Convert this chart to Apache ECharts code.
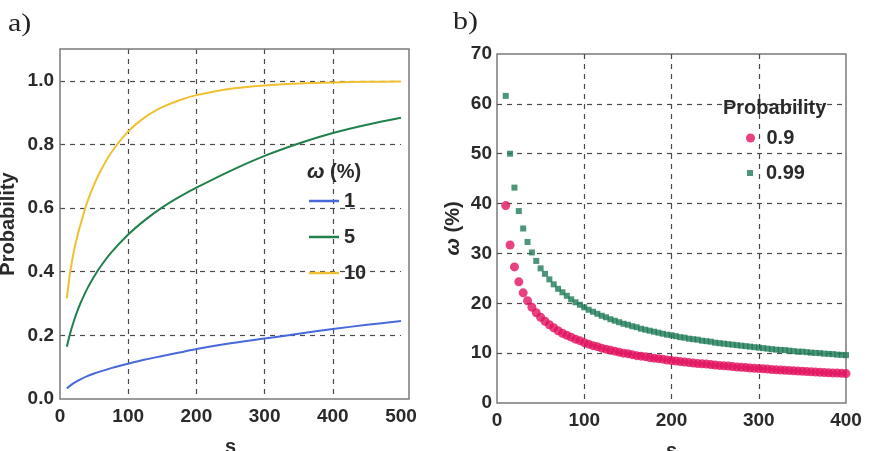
<!DOCTYPE html>
<html>
<head>
<meta charset="utf-8">
<script src="https://cdn.jsdelivr.net/npm/echarts@6/dist/echarts.min.js"></script>
<style>
  html, body { margin: 0; padding: 0; background: #fff; }
  #chart { width: 888px; height: 451px; }
</style>
</head>
<body>
<div id="chart"></div>
<script>
// panel a) probability vs s
var sA = [10, 15, 20, 25, 30, 40, 50, 60, 75, 100, 125, 150, 175, 200, 250, 300, 350, 400, 450, 500];
var w1 = [0.033, 0.042, 0.05, 0.056, 0.062, 0.072, 0.08, 0.087, 0.097, 0.111, 0.124, 0.135, 0.146, 0.157, 0.175, 0.19, 0.205, 0.22, 0.233, 0.245];
var w5 = [0.164, 0.207, 0.243, 0.274, 0.301, 0.347, 0.385, 0.418, 0.46, 0.517, 0.563, 0.602, 0.635, 0.664, 0.717, 0.764, 0.803, 0.836, 0.862, 0.884];
var w10 = [0.316, 0.4, 0.46, 0.508, 0.548, 0.619, 0.674, 0.719, 0.774, 0.841, 0.886, 0.917, 0.939, 0.955, 0.975, 0.9855, 0.9914, 0.9948, 0.9968, 0.998];

// panel b) omega vs s
var sB = [10, 15, 20, 25, 30, 35, 40, 45, 50, 55, 60, 65, 70, 75, 80, 85, 90, 95, 100,
  105, 110, 115, 120, 125, 130, 135, 140, 145, 150, 155, 160, 165, 170, 175, 180, 185, 190, 195, 200,
  205, 210, 215, 220, 225, 230, 235, 240, 245, 250, 255, 260, 265, 270, 275, 280, 285, 290, 295, 300,
  305, 310, 315, 320, 325, 330, 335, 340, 345, 350, 355, 360, 365, 370, 375, 380, 385, 390, 395, 400];
var p90 = [39.6, 31.7, 27.3, 24.3, 22.1, 20.5, 19.2, 18.1, 17.2, 16.4, 15.7, 15.1, 14.5, 14.0, 13.6, 13.2, 12.8, 12.5, 12.1,
  11.8, 11.5, 11.3, 11.0, 10.8, 10.6, 10.4, 10.2, 10.0, 9.9, 9.7, 9.5, 9.4, 9.3, 9.1, 9.0, 8.9, 8.8, 8.6, 8.5,
  8.4, 8.3, 8.2, 8.1, 8.0, 7.9, 7.85, 7.8, 7.7, 7.6, 7.5, 7.45, 7.4, 7.3, 7.2, 7.15, 7.1, 7.0, 6.95, 6.9,
  6.85, 6.8, 6.7, 6.65, 6.6, 6.55, 6.5, 6.45, 6.4, 6.35, 6.3, 6.25, 6.2, 6.15, 6.1, 6.05, 6.0, 6.0, 5.95, 5.9];
var p99 = [61.6, 50.0, 43.2, 38.5, 35.0, 32.3, 30.2, 28.5, 27.0, 25.9, 24.8, 23.8, 22.9, 22.2, 21.5, 20.8, 20.2, 19.7, 19.2,
  18.7, 18.3, 17.9, 17.5, 17.2, 16.8, 16.5, 16.2, 15.9, 15.7, 15.4, 15.2, 14.9, 14.7, 14.5, 14.3, 14.1, 13.9, 13.7, 13.6,
  13.4, 13.2, 13.1, 12.9, 12.8, 12.7, 12.5, 12.4, 12.3, 12.1, 12.0, 11.9, 11.8, 11.7, 11.6, 11.5, 11.4, 11.3, 11.2, 11.1,
  11.0, 10.9, 10.8, 10.7, 10.65, 10.6, 10.5, 10.4, 10.3, 10.3, 10.2, 10.1, 10.05, 10.0, 9.9, 9.85, 9.8, 9.7, 9.65, 9.6];

function pairs(xs, ys) {
  return xs.map(function (x, i) { return [x, ys[i]]; });
}

var font = "Liberation Sans";
var ink = "#2a2a2a";
var tickStyle = { color: ink, fontFamily: font, fontWeight: "bold", fontSize: 19 };
var textBig = { color: ink, fontFamily: font, fontWeight: "bold", fontSize: 20 };
var omegaRich = { w: { fontFamily: font, fontWeight: "bold", fontStyle: "italic", fontSize: 21, color: ink } };
var gridDash = { color: "#4a4a4a", type: [5, 5], width: 1.2 };

var chart = echarts.init(document.getElementById("chart"));
var option = {
  animation: false,
  title: [
    { text: "{w|ω} (%)", left: 302, top: 157, textStyle: Object.assign({ rich: omegaRich }, textBig) },
    { text: "Probability", left: 718, top: 93, textStyle: textBig }
  ],
  graphic: [
    { type: "text", left: 8, top: 12, scaleX: 1.2, style: { text: "a)", font: "25px 'Liberation Serif'", fill: "#222" } },
    { type: "text", left: 453, top: 10, scaleX: 1.2, style: { text: "b)", font: "25px 'Liberation Serif'", fill: "#222" } },
    { type: "rect", shape: { x: 60, y: 49, width: 349, height: 350 }, style: { fill: "none", stroke: "#7a7a7a", lineWidth: 1.5 }, z: 10 }
  ],
  grid: [
    { left: 60, right: 487, top: 49, bottom: 52, outerBoundsMode: "none", containLabel: false },
    { left: 497, right: 42, top: 54, bottom: 48, outerBoundsMode: "none", containLabel: false,
      show: true, borderColor: "#7a7a7a", borderWidth: 1.5 }
  ],
  legend: [
    {
      data: ["1", "5", "10"], orient: "vertical", left: 304, top: 186,
      icon: "rect", itemWidth: 30, itemHeight: 2.5, itemGap: 16, selectedMode: false,
      textStyle: textBig
    },
    {
      data: ["0.9"], left: 741, top: 123, itemWidth: 22, itemHeight: 9, selectedMode: false,
      textStyle: textBig
    },
    {
      data: ["0.99"], left: 742, top: 158, itemWidth: 22, itemHeight: 6, selectedMode: false,
      icon: "path://M0,0L10,0L10,10L0,10Z", symbolKeepAspect: true,
      textStyle: textBig
    }
  ],
  xAxis: [
    {
      gridIndex: 0, type: "value", min: 0, max: 500, interval: 100,
      name: "s", nameLocation: "middle", nameGap: 38, nameTextStyle: textBig,
      axisLine: { show: false }, axisTick: { show: false },
      axisLabel: Object.assign({ margin: 8 }, tickStyle),
      splitLine: { show: true, showMinLine: false, showMaxLine: false, lineStyle: gridDash }
    },
    {
      gridIndex: 1, type: "value", min: 0, max: 400, interval: 100,
      name: "s", nameLocation: "middle", nameGap: 38, nameTextStyle: textBig,
      axisLine: { show: false }, axisTick: { show: false },
      axisLabel: Object.assign({ margin: 8 }, tickStyle),
      splitLine: { show: true, showMinLine: false, showMaxLine: false, lineStyle: gridDash }
    }
  ],
  yAxis: [
    {
      gridIndex: 0, type: "value", min: 0, max: 1.1, interval: 0.2,
      name: "Probability", nameLocation: "middle", nameGap: 42, nameTextStyle: textBig,
      axisLine: { show: false }, axisTick: { show: false },
      axisLabel: Object.assign({ margin: 6, showMaxLabel: false, formatter: function (v) { return v.toFixed(1); } }, tickStyle),
      splitLine: { show: true, showMinLine: false, showMaxLine: false, lineStyle: gridDash }
    },
    {
      gridIndex: 1, type: "value", min: 0, max: 70, interval: 10,
      name: "{w|ω} (%)", nameLocation: "middle", nameGap: 33,
      nameTextStyle: Object.assign({ rich: omegaRich }, textBig),
      axisLine: { show: false }, axisTick: { show: false },
      axisLabel: Object.assign({ margin: 5 }, tickStyle),
      splitLine: { show: true, showMinLine: false, showMaxLine: false, lineStyle: gridDash }
    }
  ],
  series: [
    { name: "1", type: "line", xAxisIndex: 0, yAxisIndex: 0, data: pairs(sA, w1), smooth: 0.3, symbol: "none",
      lineStyle: { color: "#4868dc", width: 2 }, itemStyle: { color: "#4868dc" } },
    { name: "5", type: "line", xAxisIndex: 0, yAxisIndex: 0, data: pairs(sA, w5), smooth: 0.3, symbol: "none",
      lineStyle: { color: "#22804c", width: 2 }, itemStyle: { color: "#22804c" } },
    { name: "10", type: "line", xAxisIndex: 0, yAxisIndex: 0, data: pairs(sA, w10), smooth: 0.3, symbol: "none",
      lineStyle: { color: "#f0c030", width: 2 }, itemStyle: { color: "#f0c030" } },
    { name: "0.99", type: "scatter", xAxisIndex: 1, yAxisIndex: 1, data: pairs(sB, p99), symbol: "rect", symbolSize: 6,
      itemStyle: { color: "#1f7a58" } },
    { name: "0.9", type: "scatter", xAxisIndex: 1, yAxisIndex: 1, data: pairs(sB, p90), symbol: "circle", symbolSize: 9,
      itemStyle: { color: "#e2125f" } }
  ]
};
chart.setOption(option);
</script>
</body>
</html>
